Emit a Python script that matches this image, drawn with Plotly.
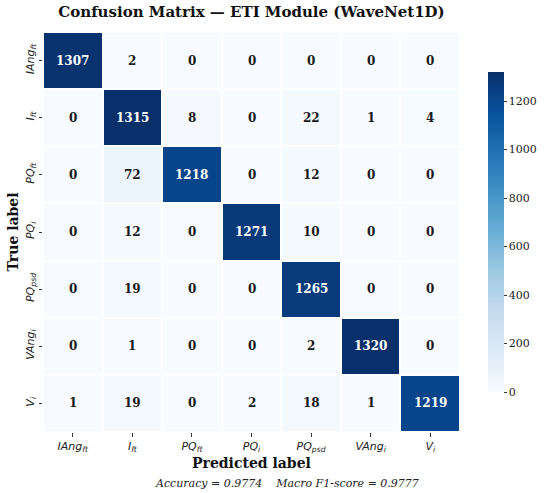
# Матрица ошибок модуля ETI (WaveNet1D) в стиле seaborn heatmap.

import plotly.graph_objects as go

labels = ['<i>IAng<sub>ft</sub></i>', '<i>I<sub>ft</sub></i>', '<i>PQ<sub>ft</sub></i>',
          '<i>PQ<sub>i</sub></i>', '<i>PQ<sub>psd</sub></i>', '<i>VAng<sub>i</sub></i>',
          '<i>V<sub>i</sub></i>']

row_iang_ft = [1307, 2, 0, 0, 0, 0, 0]
row_i_ft = [0, 1315, 8, 0, 22, 1, 4]
row_pq_ft = [0, 72, 1218, 0, 12, 0, 0]
row_pq_i = [0, 12, 0, 1271, 10, 0, 0]
row_pq_psd = [0, 19, 0, 0, 1265, 0, 0]
row_vang_i = [0, 1, 0, 0, 2, 1320, 0]
row_v_i = [1, 19, 0, 2, 18, 1, 1219]

accuracy = 0.9774
macro_f1 = 0.9777

cm = [row_iang_ft, row_i_ft, row_pq_ft, row_pq_i, row_pq_psd, row_vang_i, row_v_i]
zmax = max(max(r) for r in cm)

# matplotlib "Blues"
blues = ['#f7fbff', '#deebf7', '#c6dbef', '#9ecae1', '#6baed6',
         '#4292c6', '#2171b5', '#08519c', '#08306b']
colorscale = [[i / (len(blues) - 1), c] for i, c in enumerate(blues)]

fig = go.Figure(go.Heatmap(
    z=cm,
    x=labels,
    y=labels,
    zmin=0,
    zmax=zmax,
    colorscale=colorscale,
    xgap=2,
    ygap=2,
    hoverinfo='skip',
    colorbar=dict(
        x=1.068, xanchor='left', xpad=0,
        y=0.5, yanchor='middle', ypad=0,
        len=320, lenmode='pixels',
        thickness=16,
        outlinewidth=0,
        ticks='outside', ticklen=3, tickwidth=0.8, tickcolor='#333',
        dtick=200,
        tickfont=dict(family='DejaVu Serif', size=11, color='#222'),
    ),
))

# подписи в ячейках: белые на тёмном фоне
annotations = []
for i, row in enumerate(cm):
    for j, v in enumerate(row):
        annotations.append(dict(
            x=labels[j], y=labels[i], text='<b>%d</b>' % v,
            showarrow=False,
            font=dict(family='DejaVu Serif', size=12,
                      color='white' if v > 0.6 * zmax else '#1a1a1a'),
        ))

# подписи осей и итоговые метрики
axis_title_font = dict(family='DejaVu Serif', size=14, color='#111')
annotations += [
    dict(xref='paper', yref='paper', x=0.5, y=-0.0775,
         xanchor='center', yanchor='middle', showarrow=False,
         text='<b>Predicted label</b>', font=axis_title_font),
    dict(xref='paper', yref='paper', x=-0.073, y=0.5, textangle=-90,
         xanchor='center', yanchor='middle', showarrow=False,
         text='<b>True label</b>', font=axis_title_font),
    dict(xref='paper', yref='paper', x=0.585, y=-0.13,
         xanchor='center', yanchor='middle', showarrow=False,
         text='<i>Accuracy = %.4f&nbsp;&nbsp;&nbsp;&nbsp;Macro F1-score = %.4f</i>' % (accuracy, macro_f1),
         font=dict(family='DejaVu Serif', size=11, color='#222')),
]

fig.update_layout(
    width=550,
    height=493,
    margin=dict(l=43, r=82, t=32, b=61),
    paper_bgcolor='white',
    plot_bgcolor='white',
    title=dict(
        text='<b>Confusion Matrix — ETI Module (WaveNet1D)</b>',
        x=0.5, xref='paper', xanchor='center',
        y=1 - 12 / 493, yref='container', yanchor='middle',
        font=dict(family='DejaVu Serif', size=15, color='#111'),
    ),
    xaxis=dict(
        automargin=False,
        tickfont=dict(family='DejaVu Sans', size=11, color='#222'),
        ticks='outside', ticklen=3.5, tickwidth=0.8, tickcolor='#333',
        showgrid=False, zeroline=False, showline=False,
    ),
    yaxis=dict(
        automargin=False,
        tickfont=dict(family='DejaVu Sans', size=11, color='#222'),
        tickangle=-90,
        autorange='reversed',
        ticks='outside', ticklen=3.5, tickwidth=0.8, tickcolor='#333',
        showgrid=False, zeroline=False, showline=False,
    ),
    annotations=annotations,
)

# убрать стандартный отступ body, чтобы фигура встала в угол окна
fig.write_html("out.html", config={'displayModeBar': False},
               post_script="document.body.style.margin='0';")
